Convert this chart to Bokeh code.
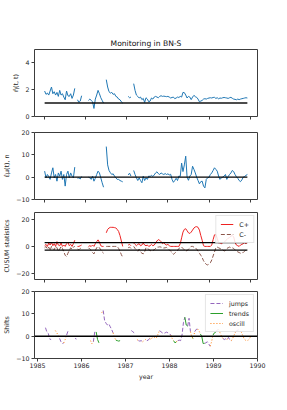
import numpy as np
from bokeh.plotting import figure
from bokeh.models import Range1d, FixedTicker, Span, Legend
from bokeh.layouts import column
from bokeh.embed import file_html
from bokeh.resources import INLINE

nan = float("nan")

# ---------------- data ----------------
# panel 1: eta-hat, sample index 0..148
ETA = ([1.9, 1.65, 1.75, 1.6, 1.9, 2.2, 1.7, 1.85, 1.6, 1.8,
        1.5, 1.95, 1.6, 1.7, 1.45, 1.25, 1.9, 1.55, 1.5, 1.7,
        1.35, 1.6, 2.1]
       + [nan] + [1.25, 1.05, 1.15, 1.55] + [nan] * 4
       + [1.2, 1.3, 1.2, 1.1, 0.6, 1.3, 1.6, 1.95, 1.7, 1.4, 1.2, 1.0]
       + [nan]
       + [2.75, 2.2, 1.85, 1.75, 1.8, 1.65, 1.7, 1.5, 1.45, 1.3, 1.25, 1.1, 1.0]
       + [nan] * 3 + [1.5, 1.4, 1.45] + [nan]
       + [2.45, 1.95, 1.6, 1.5, 1.38, 1.45, 1.26, 1.35, 1.05, 1.4,
          1.3, 1.1, 1.15, 1.38, 1.3, 1.45, 1.5, 1.45, 1.4, 1.5,
          1.55, 1.5, 1.52, 1.5, 1.48, 1.5, 1.45, 1.38, 1.42, 1.45,
          1.33, 1.38, 1.45, 1.42, 1.5, 1.45, 1.8, 1.78, 1.6, 1.38,
          1.5, 1.45, 1.26, 1.45, 1.58, 1.48, 1.43, 1.3, 1.1, 1.15,
          1.2, 1.3, 1.33, 1.3, 1.35, 1.38, 1.4, 1.38, 1.42, 1.43,
          1.35, 1.4, 1.32, 1.38, 1.36, 1.4, 1.42, 1.4, 1.38, 1.35,
          1.4, 1.43, 1.36, 1.3, 1.28, 1.25, 1.3, 1.26, 1.3, 1.33,
          1.35, 1.38, 1.4, 1.38])
ETA_REF = 1.0

# panel 2: eps-hat
EPS = ([2.7, -0.3, 1.2, 0.3, -1.0, 1.9, 4.2, -0.3, 1.2, -1.8,
        1.9, 0.45, 2.7, -1.0, 1.2, -4.0, 1.2, 2.7, -0.3, 1.9,
        0.45, -0.3, 4.5]
       + [nan] + [-0.5, -0.3, -0.8, 0.3] + [nan] * 4
       + [0.0, -0.3, -1.0, 0.45, -1.8, -0.5, 1.2, 2.7, 1.9, -0.3, -2.5, -4.5]
       + [nan]
       + [13.7, 5.5, 3.0, 2.0, 1.2, 1.5, 0.5, -0.3, -1.0, -1.0, -1.5, -1.8, -2.1]
       + [nan] * 3 + [1.0, 1.8, 0.5] + [nan]
       + [3.0, 1.2, -0.3, -1.5, -0.3, -1.5, -2.5, 0.45, -1.5, -0.3,
          -1.0, 0.5, 0.3, 0.8, 0.3, 1.0, 1.9, 2.4, 1.6, 1.2,
          1.9, 1.5, 1.2, 1.6, 1.2, 1.5, 1.0, 1.3, -1.0, -2.3,
          -1.5, -0.5, -1.5, 0.5, 0.3, 6.3, 2.5, 5.5, 9.4, 0.0,
          -1.4, 0.5, 1.2, 4.9, 3.5, 1.9, 0.0, -1.5, -3.0, -2.0,
          -1.8, -4.0, -4.8, -1.0, -0.3, 0.0, 1.2, 1.9, 3.0, 4.2,
          3.5, 2.7, 0.5, -1.0, -0.3, 0.0, 0.45, 1.2, -1.0, 0.3,
          1.2, 1.9, 3.0, 2.5, 1.2, 0.2, -0.5, -1.5, -2.0, -1.2,
          0.0, 0.3, 0.8, 1.2])
EPS_REF = 0.0

# panel 3: CUSUM statistics
CPLUS = ([0.5, 1.5, 0.0, 2.5, 1.0, 3.0, 0.5, 2.0, 0.0, 3.5,
          1.0, 0.5, 2.5, 0.0, 1.0, 0.0, 2.0, 3.0, 0.5, 1.5,
          0.0, 2.0, 4.5]
         + [nan] + [0.0, 0.0, 0.5, 1.0] + [nan] * 4
         + [0.0, 0.5, 0.0, 1.0, 0.0, 2.0, 3.5, 4.8, 3.0, 0.5, 0.0, 0.0]
         + [nan]
         + [10.0, 12.5, 13.5, 14.0, 14.0, 14.0, 13.8, 13.5, 12.5, 11.0, 8.0, 4.0, 0.0]
         + [nan] * 3 + [1.0, 1.5, 0.5] + [nan]
         + [2.5, 1.5, 0.5, 1.5, 2.0, 0.5, 1.0, 2.5, 1.0, 0.5,
            1.0, 0.0, 0.5, 1.5, 0.5, 1.0, 2.5, 4.0, 5.0, 4.5,
            3.5, 2.0, 2.7, 1.5, 1.0, 1.5, 0.5, 0.0, 0.0, 0.0,
            0.0, 0.0, 0.0, 0.0, 2.0, 6.3, 10.5, 12.5, 13.0, 11.5,
            10.0, 9.5, 10.5, 12.0, 13.5, 14.3, 14.5, 14.0, 12.0, 8.0,
            4.5, 0.5, 0.0, 0.0, 0.0, 0.0, 0.0, 1.0, 5.0, 8.5,
            8.8, 6.0, 2.5, 2.7, 2.0, 2.7, 3.0, 4.0, 5.0, 6.0,
            6.5, 7.5, 8.0, 7.0, 3.0, 1.0, 0.5, 0.0, 1.0, 1.5,
            2.0, 2.7, 2.0, 3.0])
CMINUS = ([-1.0, 0.0, -2.0, -0.5, -3.0, 0.0, -1.5, -2.5, 0.0, -1.0,
           -3.5, -2.0, 0.0, -1.5, -4.0, -6.5, -7.5, -5.0, -3.0, -1.0,
           -2.0, -0.5, 0.0]
          + [nan] + [-2.0, -2.5, -1.5, -1.0] + [nan] * 4
          + [-1.0, -2.0, -3.0, -4.5, -5.5, -3.0, -1.0, 0.0, -1.0, -2.5, -4.0, -5.0]
          + [nan]
          + [0.0, 0.0, 0.0, 0.0, 0.0, 0.0, 0.0, 0.0, 0.0, -1.5, -3.5, -6.0, -8.0]
          + [nan] * 3 + [-1.0, -0.5, -1.5] + [nan]
          + [0.0, -1.5, -2.5, -3.5, -2.0, -4.0, -5.0, -5.5, -4.0, -1.0,
             -1.5, -2.2, -3.0, -3.4, -3.0, -2.5, -1.5, -0.5, -0.5, -0.3,
             -0.5, -1.0, -1.2, -1.0, -0.8, -1.5, -2.5, -3.5, -4.5, -5.8,
             -5.0, -4.0, -3.0, -1.5, -1.0, -0.5, -1.5, -2.5, -3.4, -3.0,
             -2.2, -1.0, 0.0, 0.0, -0.5, -1.0, -2.0, -3.5, -5.0, -6.5,
             -8.2, -10.5, -12.0, -13.2, -13.6, -13.0, -12.0, -10.0, -7.0, -4.0,
             -1.0, -0.5, -1.0, -1.5, -2.0, -2.5, -3.4, -3.0, -1.5, -1.0,
             -0.5, -1.0, -1.0, -1.5, -2.5, -3.5, -4.0, -4.5, -5.0, -4.6,
             -4.5, -3.5, -2.5, -2.0])
CUSUM_H = 2.8

# panel 4: estimated shifts with their regime (j=jumps, t=trends, o=oscill, .=none)
YEAR_START = 1985.18
YEAR_STEP = 0.032
SHIFT = ([3.8, 1.8, 1.2, -1.3, -1.5, nan, nan, 2.5, 1.5, 0.5,
          -1.0, -2.5, -3.3, -3.0, -1.5, 0.5, 2.3, 2.2, nan, nan,
          nan, -1.0, -1.3] + [nan] * 9
         + [-2.0, -3.5, -2.5, 1.9, 1.9, -1.5, -3.0, nan, 10.5, 11.5,
            7.0, 5.8, 5.0, 5.5, 4.2, 3.0, 1.5, -0.5, -1.8, -2.0,
            -2.2, -2.0] + [nan] * 7
         + [2.5, 2.0, 1.5, nan, -1.5, -2.0, -2.2, -2.0, -2.5, -2.0,
            -1.5, -2.0, -1.8, -1.0, -1.5, -0.5, -0.3, -1.0, -0.5, 1.0,
            2.5, 2.0, 1.5, 1.2, 1.5, 1.8, 1.5, 1.2, 0.5, -1.0,
            -2.0, -3.0, -2.5, -2.0, -1.8, -2.0, 0.5, 6.0, 8.5, 5.0,
            4.5, 8.0, 2.0, -0.5, -1.0, 2.0, 3.0, 3.2, 2.5, 1.0,
            0.0, -3.3, -3.2, -3.0, -2.5, -3.5, -4.5, -2.5, 0.5, 1.5,
            1.8, 2.8, 3.0, 1.5, 0.0, -1.0, -1.5, -1.2, -1.5, -0.5,
            -1.8, -2.0, -1.0, 0.5, 1.9, 2.5, 2.8, 2.7, 2.0, 0.5,
            -1.0, -1.8, -2.0, -1.8, -1.0, 0.0])
REGIME = list("o" + "jjjj" + ".." + "oooo" + "jjj" + "oo" + "jj" + "..." + "jj"
              + "." * 9
              + "ooo" + "jj" + "tt" + "." + "oo" + "j" * 7 + "oo" + "ttt"
              + "." * 7
              + "jjj" + "." + "oo" + "jjj" + "ooo" + "jj" + "o" * 7 + "j" * 8
              + "oo" + "tt" + "o" + "j" * 5 + "tt" + "jj" + "o" + "t" + "o"
              + "jj" + "oo" + "ttt"
              + "jjjj" + "oo" + "tt" + "jj" + "ooo" + "jjj" + "o" + "jj"
              + "ooo" + "jjjj" + "o" * 7)
SHIFT_REF = 0.0
LABELS4 = {"j": "jumps", "t": "trends", "o": "oscill"}

# ---------------- styling helpers ----------------
FONT = "DejaVu Sans"
TXT = "6.3px"
INK = "#262626"
FRAME = "#3c3c3c"


def make_fig(x_range, y_range, top, bottom):
    p = figure(frame_width=223, frame_height=67, x_range=x_range, y_range=y_range,
               output_backend="svg", toolbar_location=None,
               min_border_left=27, min_border_right=21,
               min_border_top=top, min_border_bottom=bottom)
    p.grid.visible = False
    p.outline_line_color = FRAME
    p.outline_line_width = 1
    p.background_fill_color = "white"
    p.border_fill_color = "white"
    for ax in p.axis:
        ax.axis_line_color = None
        ax.major_tick_line_color = FRAME
        ax.major_tick_out = 3
        ax.major_tick_in = 0
        ax.minor_tick_line_color = None
        ax.major_label_text_font = FONT
        ax.major_label_text_font_size = TXT
        ax.major_label_text_color = INK
        ax.major_label_standoff = 2
        ax.axis_label_text_font = FONT
        ax.axis_label_text_font_size = TXT
        ax.axis_label_text_font_style = "normal"
        ax.axis_label_text_color = INK
        ax.axis_label_standoff = 3
    return p


def set_yticks(p, ticks):
    p.yaxis.ticker = FixedTicker(ticks=ticks)
    p.yaxis.major_label_overrides = {t: (str(t) if t >= 0 else "\u2212" + str(-t)) for t in ticks}


def hide_xlabels(p, ticks):
    p.xaxis.ticker = FixedTicker(ticks=ticks)
    p.xaxis.major_label_overrides = {t: "" for t in ticks}
    p.xaxis.major_label_text_font_size = "0px"
    p.xaxis.major_label_standoff = 0


def style_legend(leg):
    leg.location = "top_right"
    leg.label_text_font = FONT
    leg.label_text_font_size = TXT
    leg.label_text_color = INK
    leg.glyph_width = 13
    leg.glyph_height = 8
    leg.label_height = 8
    leg.label_width = 6
    leg.label_standoff = 6
    leg.spacing = 2
    leg.padding = 4
    leg.margin = 3
    leg.border_line_color = "#cccccc"
    leg.border_line_width = 1
    leg.background_fill_alpha = 0.85


IDX_TICKS = [0, 30, 60, 90, 120, 150]

# ---------------- panel 1 ----------------
idx1 = np.arange(len(ETA))
p1 = make_fig(Range1d(-7.4, 155.4), Range1d(0, 5), 49, 9)
p1.title.text = "Monitoring in BN-S"
p1.title.align = "center"
p1.title.text_font = FONT
p1.title.text_font_size = "7.6px"
p1.title.text_font_style = "normal"
p1.title.text_color = "#111111"
p1.title.standoff = 3
p1.line(idx1, ETA, color="#1f77b4", line_width=1)
p1.line([idx1[0], idx1[-1]], [ETA_REF, ETA_REF], color="black", alpha=0.7, line_width=2)
set_yticks(p1, [0, 2, 4])
hide_xlabels(p1, IDX_TICKS)
p1.yaxis.axis_label = "\u03b7\u0302(t, t)"

# ---------------- panel 2 ----------------
idx2 = np.arange(len(EPS))
p2 = make_fig(Range1d(-7.4, 155.4), Range1d(-10, 20), 7, 6)
p2.line(idx2, EPS, color="#1f77b4", line_width=1)
p2.line([idx2[0], idx2[-1]], [EPS_REF, EPS_REF], color="black", line_width=1.3)
set_yticks(p2, [-10, 0, 10, 20])
hide_xlabels(p2, IDX_TICKS)
p2.yaxis.axis_label = "\u03b5\u0302\u03bc(t), n"

# ---------------- panel 3 ----------------
idx3 = np.arange(len(CPLUS))
p3 = make_fig(Range1d(-7.4, 155.4), Range1d(-24.3, 24.9), 7, 5)
r_plus = p3.line(idx3, CPLUS, color="#ee2222", line_width=1)
r_minus = p3.line(idx3, CMINUS, color="#8c564b", line_width=1, line_dash="4 2")
p3.line([idx3[0], idx3[-1]], [CUSUM_H, CUSUM_H], color="black", line_width=1.3)
p3.line([idx3[0], idx3[-1]], [-CUSUM_H, -CUSUM_H], color="black", line_width=1.3)
set_yticks(p3, [-20, 0, 20])
hide_xlabels(p3, IDX_TICKS)
p3.yaxis.axis_label = "CUSUM statistics"
leg3 = Legend(items=[("C+", [r_plus]), ("C-", [r_minus])])
style_legend(leg3)
p3.add_layout(leg3)

# ---------------- panel 4 ----------------
n4 = min(len(SHIFT), len(REGIME))
years = YEAR_START + YEAR_STEP * np.arange(n4)


def regime_series(r):
    out = []
    for k in range(n4):
        keep = REGIME[k] == r or (k + 1 < n4 and REGIME[k + 1] == r and REGIME[k] != ".")
        out.append(SHIFT[k] if keep else nan)
    return out


p4 = make_fig(Range1d(1984.93, 1990.0), Range1d(-10, 20), 7, 36)
p4.add_layout(Span(location=SHIFT_REF, dimension="width", line_color="black", line_width=1.5))
r_j = p4.line(years, regime_series("j"), color="#9467bd", line_width=1, line_dash="4 2")
r_t = p4.line(years, regime_series("t"), color="#2ca02c", line_width=1)
r_o = p4.line(years, regime_series("o"), color="#ff7f0e", line_width=1, line_dash="1 2")
set_yticks(p4, [-10, 0, 10, 20])
p4.xaxis.ticker = FixedTicker(ticks=[1985, 1986, 1987, 1988, 1989, 1990])
p4.xaxis.major_label_overrides = {y: str(y) for y in [1985, 1986, 1987, 1988, 1989, 1990]}
p4.xaxis.major_label_standoff = 1
p4.xaxis.axis_label = "year"
p4.xaxis.axis_label_standoff = 2
p4.yaxis.axis_label = "Shifts"
leg4 = Legend(items=[(LABELS4["j"], [r_j]), (LABELS4["t"], [r_t]), (LABELS4["o"], [r_o])])
style_legend(leg4)
p4.add_layout(leg4)

layout = column(p1, p2, p3, p4, spacing=0)
open("out.html", "w").write(file_html(layout, INLINE))
